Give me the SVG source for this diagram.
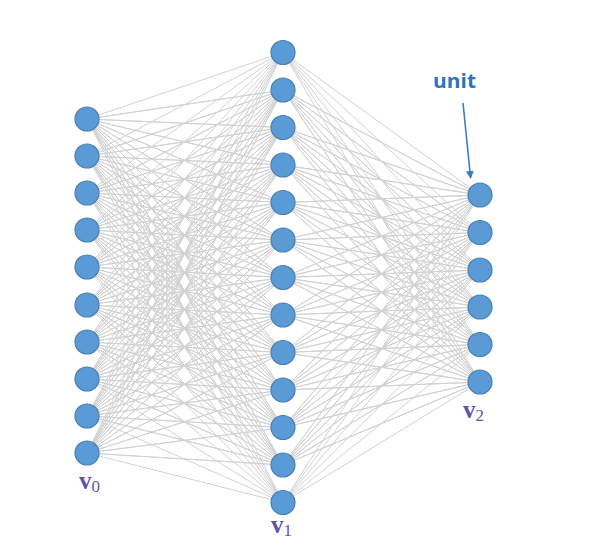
<svg xmlns="http://www.w3.org/2000/svg" width="593" height="558" viewBox="0 0 593 558">
<style>
.e{fill:none;stroke:#d2d2d2;stroke-width:1;stroke-linejoin:round}
.n{fill:#5b9bd5;stroke:#4a7fb5;stroke-width:1.2}
.lbl{font-family:"Liberation Serif",serif;fill:#5f55a6}
.v{font-weight:bold;font-size:25px}
.s{font-size:17px}
.unit{font-family:"Open Sans","Liberation Sans",sans-serif;font-weight:bold;font-size:19px;fill:#2e72bd}
</style>
<defs>
<marker id="ah" markerWidth="8" markerHeight="8" refX="6" refY="4" orient="auto" markerUnits="userSpaceOnUse">
<path d="M0,0 L8,4 L0,8 Z" fill="#3a7cc4"/>
</marker>
</defs>
<rect width="593" height="558" fill="#ffffff"/>
<g id="connectors">
<polyline class="e" points="283,52.5 87,119 283,90 87,119 283,127.5 87,119 283,165 87,119 283,202.5 87,119 283,240 87,119 283,277.5 87,119 283,315 87,119 283,352.5 87,119 283,390 87,119 283,427.5 87,119 283,465 87,119 283,502.5"/>
<polyline class="e" points="283,52.5 87,156 283,90 87,156 283,127.5 87,156 283,165 87,156 283,202.5 87,156 283,240 87,156 283,277.5 87,156 283,315 87,156 283,352.5 87,156 283,390 87,156 283,427.5 87,156 283,465 87,156 283,502.5"/>
<polyline class="e" points="283,52.5 87,193 283,90 87,193 283,127.5 87,193 283,165 87,193 283,202.5 87,193 283,240 87,193 283,277.5 87,193 283,315 87,193 283,352.5 87,193 283,390 87,193 283,427.5 87,193 283,465 87,193 283,502.5"/>
<polyline class="e" points="283,52.5 87,230 283,90 87,230 283,127.5 87,230 283,165 87,230 283,202.5 87,230 283,240 87,230 283,277.5 87,230 283,315 87,230 283,352.5 87,230 283,390 87,230 283,427.5 87,230 283,465 87,230 283,502.5"/>
<polyline class="e" points="283,52.5 87,267 283,90 87,267 283,127.5 87,267 283,165 87,267 283,202.5 87,267 283,240 87,267 283,277.5 87,267 283,315 87,267 283,352.5 87,267 283,390 87,267 283,427.5 87,267 283,465 87,267 283,502.5"/>
<polyline class="e" points="283,52.5 87,305 283,90 87,305 283,127.5 87,305 283,165 87,305 283,202.5 87,305 283,240 87,305 283,277.5 87,305 283,315 87,305 283,352.5 87,305 283,390 87,305 283,427.5 87,305 283,465 87,305 283,502.5"/>
<polyline class="e" points="283,52.5 87,342 283,90 87,342 283,127.5 87,342 283,165 87,342 283,202.5 87,342 283,240 87,342 283,277.5 87,342 283,315 87,342 283,352.5 87,342 283,390 87,342 283,427.5 87,342 283,465 87,342 283,502.5"/>
<polyline class="e" points="283,52.5 87,379 283,90 87,379 283,127.5 87,379 283,165 87,379 283,202.5 87,379 283,240 87,379 283,277.5 87,379 283,315 87,379 283,352.5 87,379 283,390 87,379 283,427.5 87,379 283,465 87,379 283,502.5"/>
<polyline class="e" points="283,52.5 87,416 283,90 87,416 283,127.5 87,416 283,165 87,416 283,202.5 87,416 283,240 87,416 283,277.5 87,416 283,315 87,416 283,352.5 87,416 283,390 87,416 283,427.5 87,416 283,465 87,416 283,502.5"/>
<polyline class="e" points="283,52.5 87,453 283,90 87,453 283,127.5 87,453 283,165 87,453 283,202.5 87,453 283,240 87,453 283,277.5 87,453 283,315 87,453 283,352.5 87,453 283,390 87,453 283,427.5 87,453 283,465 87,453 283,502.5"/>
<polyline class="e" points="283,52.5 480,195 283,90 480,195 283,127.5 480,195 283,165 480,195 283,202.5 480,195 283,240 480,195 283,277.5 480,195 283,315 480,195 283,352.5 480,195 283,390 480,195 283,427.5 480,195 283,465 480,195 283,502.5"/>
<polyline class="e" points="283,52.5 480,232.5 283,90 480,232.5 283,127.5 480,232.5 283,165 480,232.5 283,202.5 480,232.5 283,240 480,232.5 283,277.5 480,232.5 283,315 480,232.5 283,352.5 480,232.5 283,390 480,232.5 283,427.5 480,232.5 283,465 480,232.5 283,502.5"/>
<polyline class="e" points="283,52.5 480,270 283,90 480,270 283,127.5 480,270 283,165 480,270 283,202.5 480,270 283,240 480,270 283,277.5 480,270 283,315 480,270 283,352.5 480,270 283,390 480,270 283,427.5 480,270 283,465 480,270 283,502.5"/>
<polyline class="e" points="283,52.5 480,307 283,90 480,307 283,127.5 480,307 283,165 480,307 283,202.5 480,307 283,240 480,307 283,277.5 480,307 283,315 480,307 283,352.5 480,307 283,390 480,307 283,427.5 480,307 283,465 480,307 283,502.5"/>
<polyline class="e" points="283,52.5 480,344.5 283,90 480,344.5 283,127.5 480,344.5 283,165 480,344.5 283,202.5 480,344.5 283,240 480,344.5 283,277.5 480,344.5 283,315 480,344.5 283,352.5 480,344.5 283,390 480,344.5 283,427.5 480,344.5 283,465 480,344.5 283,502.5"/>
<polyline class="e" points="283,52.5 480,382 283,90 480,382 283,127.5 480,382 283,165 480,382 283,202.5 480,382 283,240 480,382 283,277.5 480,382 283,315 480,382 283,352.5 480,382 283,390 480,382 283,427.5 480,382 283,465 480,382 283,502.5"/>
<line x1="463" y1="103" x2="470.5" y2="177" stroke="#3a7cc4" stroke-width="1.6" marker-end="url(#ah)"/>
</g>
<g id="layer0">
<circle class="n" cx="87" cy="119" r="12"/>
<circle class="n" cx="87" cy="156" r="12"/>
<circle class="n" cx="87" cy="193" r="12"/>
<circle class="n" cx="87" cy="230" r="12"/>
<circle class="n" cx="87" cy="267" r="12"/>
<circle class="n" cx="87" cy="305" r="12"/>
<circle class="n" cx="87" cy="342" r="12"/>
<circle class="n" cx="87" cy="379" r="12"/>
<circle class="n" cx="87" cy="416" r="12"/>
<circle class="n" cx="87" cy="453" r="12"/>
</g>
<g id="layer1">
<circle class="n" cx="283" cy="52.5" r="12"/>
<circle class="n" cx="283" cy="90" r="12"/>
<circle class="n" cx="283" cy="127.5" r="12"/>
<circle class="n" cx="283" cy="165" r="12"/>
<circle class="n" cx="283" cy="202.5" r="12"/>
<circle class="n" cx="283" cy="240" r="12"/>
<circle class="n" cx="283" cy="277.5" r="12"/>
<circle class="n" cx="283" cy="315" r="12"/>
<circle class="n" cx="283" cy="352.5" r="12"/>
<circle class="n" cx="283" cy="390" r="12"/>
<circle class="n" cx="283" cy="427.5" r="12"/>
<circle class="n" cx="283" cy="465" r="12"/>
<circle class="n" cx="283" cy="502.5" r="12"/>
</g>
<g id="layer2">
<circle class="n" cx="480" cy="195" r="12"/>
<circle class="n" cx="480" cy="232.5" r="12"/>
<circle class="n" cx="480" cy="270" r="12"/>
<circle class="n" cx="480" cy="307" r="12"/>
<circle class="n" cx="480" cy="344.5" r="12"/>
<circle class="n" cx="480" cy="382" r="12"/>
</g>
<g id="labels">
<text class="lbl" x="79" y="489"><tspan class="v">v</tspan><tspan class="s" dy="3">0</tspan></text>
<text class="lbl" x="271" y="533"><tspan class="v">v</tspan><tspan class="s" dy="3">1</tspan></text>
<text class="lbl" x="463" y="418"><tspan class="v">v</tspan><tspan class="s" dy="3">2</tspan></text>
<text class="unit" x="433" y="88" textLength="43" lengthAdjust="spacingAndGlyphs">unit</text>
</g>
</svg>
